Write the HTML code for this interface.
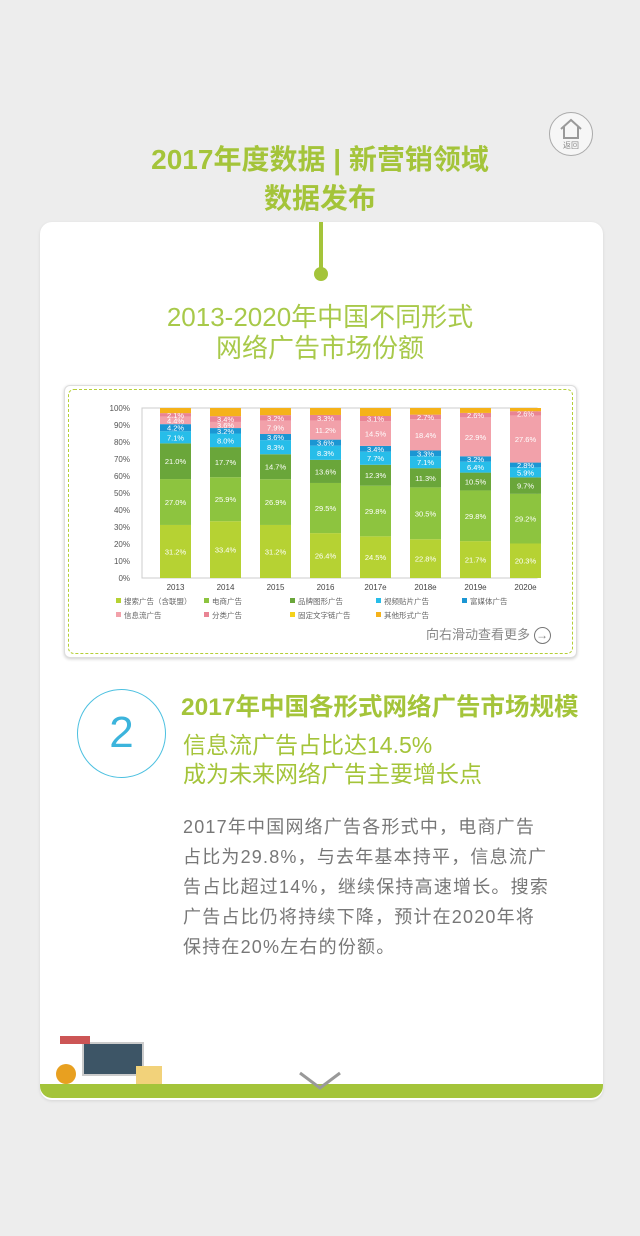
<!DOCTYPE html>
<html><head><meta charset="utf-8">
<style>
*{margin:0;padding:0;box-sizing:border-box}
body{width:640px;height:1236px;background:#ededed;font-family:"Liberation Sans","Noto Sans CJK SC",sans-serif;position:relative;overflow:hidden}
.abs{position:absolute}
.title{left:0;width:640px;text-align:center;color:#a4c43a;font-weight:bold;font-size:28px}
.card{left:40px;top:222px;width:563px;height:878px;background:#fff;border-radius:12px;overflow:hidden;box-shadow:0 1px 3px rgba(0,0,0,.1)}
.sub{left:0;width:640px;text-align:center;color:#a8c94a;font-size:26px;line-height:31px}
.body{left:183px;top:812px;width:420px;color:#777;font-size:18px;line-height:30px;letter-spacing:1.2px;white-space:nowrap}
</style></head><body>
<div class="abs" style="left:549px;top:112px;width:44px;height:44px;border:1.5px solid #aaa;border-radius:50%;background:#f6f6f6;text-align:center;">
<svg width="30" height="24" viewBox="0 0 30 24" style="margin-top:4px"><path d="M5 12 L15 3 L25 12 M8 10 V21 H22 V10" fill="none" stroke="#999" stroke-width="2"/></svg>
<div style="font-size:8px;color:#888;margin-top:-6px">返回</div></div>
<div class="abs title" style="top:138px">2017年度数据 | 新营销领域</div>
<div class="abs title" style="top:177px">数据发布</div>
<div class="abs card"></div>
<div class="abs" style="left:319px;top:222px;width:4px;height:50px;background:#a4c43a"></div>
<div class="abs" style="left:314px;top:267px;width:14px;height:14px;border-radius:50%;background:#a4c43a"></div>
<div class="abs sub" style="top:302px">2013-2020年中国不同形式<br>网络广告市场份额</div>
<div class="abs" style="left:64px;top:385px;width:513px;height:273px;border:1px solid #ddd;border-radius:6px;background:#fff;box-shadow:0 1px 3px rgba(0,0,0,.2)"></div>
<div class="abs" style="left:68px;top:389px;width:505px;height:265px;border:1.5px dashed #b5cf37;border-radius:6px"></div>
<svg class="abs" id="chart" style="left:0;top:0" width="640" height="660"></svg>
<div class="abs" style="left:426px;top:624px;font-size:13px;color:#888">向右滑动查看更多 <span style="display:inline-block;width:17px;height:17px;border:1.5px solid #777;border-radius:50%;text-align:center;line-height:14px;font-size:12px">→</span></div>
<div class="abs" style="left:77px;top:689px;width:89px;height:89px;border:1.5px solid #4cc0e0;border-radius:50%;text-align:center;line-height:86px;font-size:44px;color:#3cb4dc">2</div>
<div class="abs" style="left:181px;top:688px;font-size:24.5px;font-weight:bold;color:#a4c43a">2017年中国各形式网络广告市场规模</div>
<div class="abs" style="left:183px;top:731px;font-size:23px;line-height:29px;color:#a4c43a">信息流广告占比达14.5%<br>成为未来网络广告主要增长点</div>
<div class="abs body">2017年中国网络广告各形式中，电商广告<br>占比为29.8%，与去年基本持平，信息流广<br>告占比超过14%，继续保持高速增长。搜索<br>广告占比仍将持续下降，预计在2020年将<br>保持在20%左右的份额。</div>
<div class="abs" style="left:40px;top:1084px;width:563px;height:14px;background:#a4c43a;border-radius:0 0 12px 12px"></div>
<div class="abs" style="left:54px;top:1030px;width:110px;height:56px">
<div class="abs" style="left:28px;top:12px;width:62px;height:34px;background:#3d5566;border:2px solid #ccc"></div>
<div class="abs" style="left:6px;top:6px;width:30px;height:8px;background:#c55"></div>
<div class="abs" style="left:2px;top:34px;width:20px;height:20px;border-radius:50%;background:#e8a020"></div>
<div class="abs" style="left:82px;top:36px;width:26px;height:18px;background:#f2d27a"></div>
</div>
<svg class="abs" style="left:298px;top:1070px" width="44" height="22"><path d="M2 3 L22 18 L42 3" fill="none" stroke="#999" stroke-width="3"/></svg>
<script>
const years=["2013","2014","2015","2016","2017e","2018e","2019e","2020e"];
const search=[31.2,33.4,31.2,26.4,24.5,22.8,21.7,20.3];
const ecom=[27.0,25.9,26.9,29.5,29.8,30.5,29.8,29.2];
const brand=[21.0,17.7,14.7,13.6,12.3,11.3,10.5,9.7];
const video=[7.1,8.0,8.3,8.3,7.7,7.1,6.4,5.9];
const rich=[4.2,3.2,3.6,3.6,3.4,3.3,3.2,2.8];
const feed=[4.4,3.6,7.9,11.2,14.5,18.4,22.9,27.6];
const classified=[2.1,3.4,3.2,3.3,3.1,2.7,2.6,2.6];
const other=[3.0,4.8,4.2,4.1,4.7,3.9,2.9,1.9];
const yTicks=[0,10,20,30,40,50,60,70,80,90,100];
const series=[search,ecom,brand,video,rich,feed,classified,other];
const colors=["#b6d233","#8dc43f","#6aa63a","#27bde9","#1b96d3","#f2a1aa","#e98494","#f5b21a"];
const showLabel=[1,1,1,1,1,1,1,0];
const legendNames=["搜索广告（含联盟）","电商广告","品牌图形广告","视频贴片广告","富媒体广告","信息流广告","分类广告","固定文字链广告","其他形式广告"];
const legendColors=["#b6d233","#8dc43f","#6aa63a","#27bde9","#1b96d3","#f2a1aa","#e98494","#f5d21a","#f5b21a"];
const svg=document.getElementById('chart');const NS='http://www.w3.org/2000/svg';
const x0=142,x1=537,yTop=408,yBot=578,step=50,bw=31;
const ys=v=>yBot-(yBot-yTop)*v/100;
const xc=i=>x0+18+bw/2+i*step;
function mk(t,a){const e=document.createElementNS(NS,t);for(const k in a)e.setAttribute(k,a[k]);svg.appendChild(e);return e;}
yTicks.forEach(t=>{const e=mk('text',{x:x0-12,y:ys(t)+3,'text-anchor':'end','font-size':8,fill:'#555'});e.textContent=t+'%';

});
const ax=mk('rect',{x:x0,y:yTop,width:x1-x0,height:yBot-yTop,fill:'none',stroke:'#ccc'});


years.forEach((yr,i)=>{let acc=0;
series.forEach((s,k)=>{const v=s[i];const r=mk('rect',{x:xc(i)-bw/2,y:ys(acc+v),width:bw,height:ys(acc)-ys(acc+v),fill:colors[k]});


if(showLabel[k]){const t=mk('text',{x:xc(i),y:(ys(acc)+ys(acc+v))/2+3,'text-anchor':'middle','font-size':7.5,fill:'#fff'});t.textContent=v.toFixed(1)+'%';

}
acc+=v;});
const l=mk('text',{x:xc(i),y:yBot+12,'text-anchor':'middle','font-size':8,fill:'#444'});l.textContent=yr;

});
legendNames.forEach((n,i)=>{const col=i%5,row=Math.floor(i/5);const lx=[116,204,290,376,462][col],ly=604+row*14;
const r=mk('rect',{x:lx,y:ly-6,width:5,height:5,fill:legendColors[i]});


const t=mk('text',{x:lx+8,y:ly,'font-size':7.5,fill:'#666'});t.textContent=n;

});
</script>
</body></html>
